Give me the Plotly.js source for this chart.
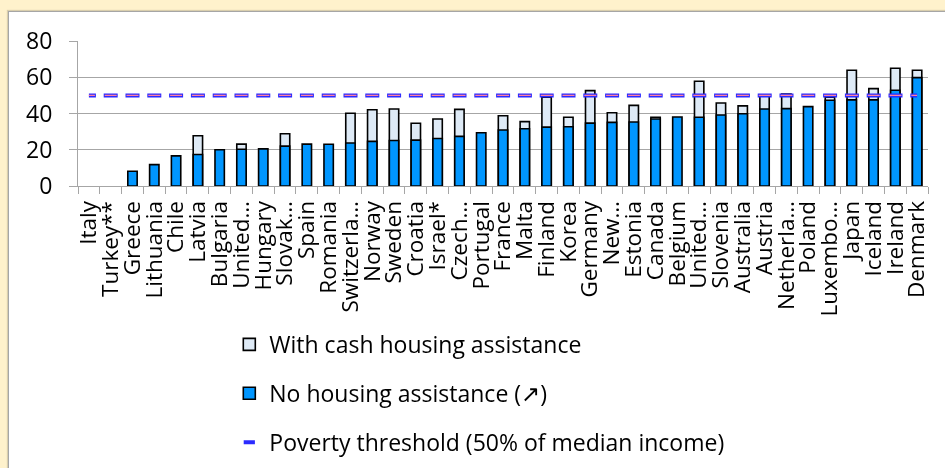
<!DOCTYPE html>
<html>
<head>
<meta charset="utf-8">
<script src="https://cdn.plot.ly/plotly-3.0.1.min.js"></script>
<style>
  html, body { margin: 0; padding: 0; background: #FFF2CC; overflow: hidden; }
  #frame { position: fixed; left: 8px; top: 11px; right: -20px; bottom: -20px;
           background: #ffffff; border-left: 1px solid #a6a6a6; border-top: 1px solid #a6a6a6;
           box-shadow: -1px -1px 1px rgba(0,0,0,0.15); }
  #chart { position: absolute; left: 0; top: 0; width: 945px; height: 468px; }
</style>
</head>
<body>
<div id="frame"></div>
<div id="chart"></div>
<script>
const countries = ["Italy","Turkey","Greece","Lithuania","Chile","Latvia","Bulgaria","United Kingdom","Hungary","Slovak Republic",
  "Spain","Romania","Switzerland","Norway","Sweden","Croatia","Israel","Czech Republic","Portugal","France",
  "Malta","Finland","Korea","Germany","New Zealand","Estonia","Canada","Belgium","United States","Slovenia",
  "Australia","Austria","Netherlands","Poland","Luxembourg","Japan","Iceland","Ireland","Denmark"];
const tickLabels = ["Italy","Turkey**","Greece","Lithuania","Chile","Latvia","Bulgaria","United…","Hungary","Slovak…",
  "Spain","Romania","Switzerla…","Norway","Sweden","Croatia","Israel*","Czech…","Portugal","France",
  "Malta","Finland","Korea","Germany","New…","Estonia","Canada","Belgium","United…","Slovenia",
  "Australia","Austria","Netherla…","Poland","Luxembo…","Japan","Iceland","Ireland","Denmark"];
const noAssistance = [null,null,8.1,11.8,16.6,17.4,20.0,20.3,20.5,22.0,
  23.1,23.0,23.7,24.6,25.1,25.3,26.2,27.4,29.4,30.9,
  31.6,32.5,32.7,34.7,35.1,35.3,37.0,38.1,37.9,39.2,
  39.9,42.5,42.7,43.8,47.3,47.5,47.5,52.8,59.8];
const withCashAssistance = [null,null,null,null,null,27.7,null,23.1,null,28.8,
  null,null,40.1,42.1,42.5,34.6,37.0,42.3,null,38.8,
  35.5,49.0,37.9,52.6,40.4,44.5,37.9,null,57.8,45.8,
  44.2,50.3,50.8,null,49.0,63.9,53.7,65.0,63.9];
const povertyThreshold = 50;
const yTicks = [0,20,40,60,80];

const FONT = '"Open Sans", "DejaVu Sans", sans-serif';
const thresholdY = countries.map(() => povertyThreshold);

const traces = [
  {type:'bar', x:countries, y:withCashAssistance, name:'With cash housing assistance',
   legendgroup:'a', marker:{color:'#DEEAF6', line:{color:'#000000', width:1.6}}, hoverinfo:'x+y'},
  {type:'bar', x:countries, y:noAssistance, name:'No housing assistance (↗)',
   legendgroup:'b', marker:{color:'#0096FF', line:{color:'#000000', width:1.6}}, hoverinfo:'x+y'},
  {type:'scatter', mode:'lines', x:countries, y:thresholdY, showlegend:false, legendgroup:'c',
   line:{color:'#2B2BFF', width:4, dash:'7px,7.8px,7px,0px'}, hoverinfo:'skip'},
  {type:'scatter', mode:'lines', x:countries, y:thresholdY, showlegend:false, legendgroup:'c',
   line:{color:'#FF7F9F', width:1.2, dash:'6px,9.8px,6px,0px'}, hoverinfo:'skip'},
  {type:'scatter', mode:'markers', x:[null], y:[null], name:'Poverty threshold (50% of median income)',
   legendgroup:'c', marker:{symbol:'line-ew', size:8, color:'#2B2BFF', line:{color:'#2B2BFF', width:4}}}
];

const layout = {
  width:945, height:468,
  paper_bgcolor:'rgba(0,0,0,0)', plot_bgcolor:'rgba(0,0,0,0)',
  margin:{l:78, r:17, t:41, b:282},
  barmode:'overlay', bargap:0.57,
  font:{family:FONT, size:22, color:'#000000'},
  showlegend:true,
  legend:{orientation:'v', x:0.178, xanchor:'left', yref:'container', y:0.31, yanchor:'top',
    traceorder:'grouped', tracegroupgap:16, itemwidth:30,
    font:{family:FONT, size:23, color:'#000000'}, bgcolor:'rgba(0,0,0,0)'},
  xaxis:{type:'category', tickmode:'array', tickvals:countries, ticktext:tickLabels,
    tickangle:-90, tickfont:{family:FONT, size:22.5}, showgrid:false,
    showline:true, linecolor:'#a6a6a6', linewidth:1, ticklabelstandoff:5,
    ticks:'outside', tickson:'boundaries', ticklen:7, tickcolor:'#a6a6a6', tickwidth:1,
    range:[-0.5, countries.length-0.5], fixedrange:true},
  yaxis:{range:[0,80], tickmode:'array', tickvals:yTicks, showgrid:true, gridcolor:'#a6a6a6', gridwidth:1,
    showline:true, linecolor:'#a6a6a6', linewidth:1, zeroline:false,
    ticks:'outside', ticklen:8, tickcolor:'#a6a6a6', ticklabelstandoff:12,
    tickfont:{family:FONT, size:23}, fixedrange:true}
};

Plotly.newPlot('chart', traces, layout, {displayModeBar:false, staticPlot:true});
</script>
</body>
</html>
